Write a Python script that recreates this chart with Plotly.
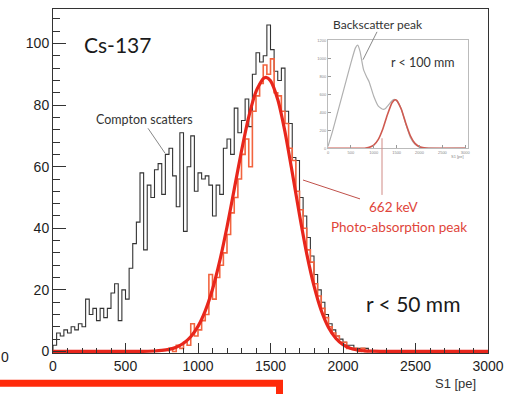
import numpy as np
import plotly.graph_objects as go

# ---------------- data ----------------
bin_width = 25
black_start = 0
black_counts = [2, 6, 5, 7, 6, 8, 7, 9, 8, 17, 12, 14, 10, 14, 11, 14, 19, 22, 10, 20,
                17, 27, 35, 42, 58, 33, 54, 50, 59, 61, 51, 64, 66, 57, 47, 71, 39, 60, 70, 52,
                58, 56, 57, 54, 44, 54, 51, 66, 69, 64, 79, 71, 75, 82, 73, 90, 97, 94, 96, 106,
                98, 91, 88, 92, 78, 74, 63, 62, 50, 44, 37, 31, 25, 20, 16, 12, 9, 7, 5, 4,
                3, 2, 2, 1, 1, 1, 1, 0]
red_start = 800
red_counts = [1, 0, 2, 1, 3, 2, 9, 5, 7, 10,
              12, 25, 17, 24, 28, 32, 38, 45, 50, 56,
              64, 69, 60, 78, 83, 87, 93, 90, 95, 84,
              83, 78, 74, 66, 62, 52, 46, 40, 33, 29,
              22, 18, 14, 11, 8, 6, 5, 3, 3, 1,
              1, 1, 0, 1, 0]

fit_x = [0, 600, 700, 750, 800, 850, 900, 950, 1000, 1050, 1100, 1150, 1200, 1250, 1300,
         1350, 1400, 1450, 1470, 1500, 1550, 1600, 1650, 1700, 1750, 1800, 1850, 1900,
         1950, 2000, 2050, 2100, 2150, 2200, 2300, 3000]
fit_y = [0, 0, 0.15, 0.33, 0.69, 1.39, 2.65, 4.78, 8.16, 13.2, 20.2, 29.4, 40.4, 52.7, 65.1,
         76.2, 84.4, 88.6, 89.0, 87.9, 81.8, 71.3, 58.1, 44.4, 31.7, 21.3, 13.3, 7.8,
         4.3, 2.2, 1.07, 0.48, 0.2, 0.08, 0, 0]

inset_gray_x = [0, 100, 200, 300, 400, 500, 600, 650, 700, 775, 850, 900, 1000, 1100, 1200,
                1250, 1300, 1400, 1450, 1500, 1600, 1700, 1800, 1900, 2000, 2100, 2200, 3000]
inset_gray_y = [20, 190, 380, 570, 760, 950, 1120, 1150, 1080, 880, 790, 740, 580, 470, 435,
                440, 470, 530, 545, 530, 440, 270, 120, 45, 12, 3, 0, 0]
inset_red_x = [0, 800, 900, 1000, 1100, 1200, 1300, 1400, 1470, 1500, 1600, 1700, 1800,
               1900, 2000, 2100, 2200, 3000]
inset_red_y = [0, 0, 9, 34, 98, 217, 376, 508, 540, 534, 437, 279, 139, 54, 16, 4, 0, 0]

x_ticks = [0, 500, 1000, 1500, 2000, 2500, 3000]
y_ticks = [0, 20, 40, 60, 80, 100]
inset_y_ticks = [0, 200, 400, 600, 800, 1000, 1200]

# ---------------- helpers ----------------
W, H = 519, 394
L, R, T, B = 53, 31, 7, 41
PW, PH = W - L - R, H - T - B


def P(xp, yp):
    return (xp - L) / PW, (H - B - yp) / PH


def step(start, counts):
    edges = start + bin_width * np.arange(len(counts) + 1)
    xs = [edges[0]] + list(edges) + [edges[-1]]
    ys = [0] + list(counts) + [counts[-1], 0]
    return xs, ys


fig = go.Figure()

bx, by = step(black_start, black_counts)
fig.add_trace(go.Scatter(x=bx, y=by, mode="lines", line=dict(color="#333333", width=1.1, shape="hv"),
                         hoverinfo="skip", showlegend=False))
rx, ry = step(red_start, red_counts)
fig.add_trace(go.Scatter(x=rx, y=ry, mode="lines", line=dict(color="#f2643f", width=1.6, shape="hv"),
                         hoverinfo="skip", showlegend=False))
fig.add_trace(go.Scatter(x=fit_x, y=fit_y, mode="lines",
                         line=dict(color="#e8261c", width=3.2, shape="spline", smoothing=0.6),
                         hoverinfo="skip", showlegend=False))

# inset
fig.add_trace(go.Scatter(x=inset_gray_x, y=inset_gray_y, mode="lines", xaxis="x2", yaxis="y2",
                         line=dict(color="#b0b0b0", width=1.2, shape="spline", smoothing=0.5),
                         hoverinfo="skip", showlegend=False))
fig.add_trace(go.Scatter(x=inset_red_x, y=inset_red_y, mode="lines", xaxis="x2", yaxis="y2",
                         line=dict(color="#cf5a50", width=1.6, shape="spline", smoothing=0.5),
                         hoverinfo="skip", showlegend=False))

tickfont = dict(family="Liberation Sans, Arial, sans-serif", size=14, color="#1e1e1e")
ix0, iy0 = P(328, 147)
ix1, iy1 = P(468, 38)

fig.update_layout(
    width=W, height=H,
    margin=dict(l=L, r=R, t=T, b=B),
    paper_bgcolor="white", plot_bgcolor="white",
    xaxis=dict(range=[0, 3000], tickvals=x_ticks, ticks="inside", ticklen=10, tickcolor="#333",
               showline=True, linecolor="#333", linewidth=1, mirror=True, showgrid=False,
               zeroline=False, tickfont=tickfont,
               minor=dict(dtick=100, ticks="inside", ticklen=5, tickcolor="#333")),
    yaxis=dict(range=[-0.5, 111.2], tickvals=y_ticks, ticks="inside", ticklen=13, tickcolor="#333",
               showline=True, linecolor="#333", linewidth=1, mirror=True, showgrid=False,
               zeroline=False, tickfont=tickfont,
               minor=dict(dtick=4, ticks="inside", ticklen=7, tickcolor="#333")),
    xaxis2=dict(domain=[ix0, ix1], anchor="y2", range=[0, 3060], tickvals=x_ticks,
                ticks="inside", ticklen=3, tickcolor="#999", showline=True, linecolor="#bbb",
                mirror=True, showgrid=False, zeroline=False,
                tickfont=dict(family="Liberation Sans", size=4, color="#888")),
    yaxis2=dict(domain=[iy0, iy1], anchor="x2", range=[0, 1210], tickvals=inset_y_ticks,
                ticks="inside", ticklen=3, tickcolor="#999", showline=True, linecolor="#bbb",
                mirror=True, showgrid=False, zeroline=False,
                tickfont=dict(family="Liberation Sans", size=4, color="#888")),
)

ann_font = "Lato, Open Sans, sans-serif"


def text(xp, yp, s, size, color="#222", family=ann_font):
    x, y = P(xp, yp)
    fig.add_annotation(x=x, y=y, xref="paper", yref="paper", text=s, showarrow=False,
                       font=dict(family=family, size=size, color=color),
                       xanchor="center", yanchor="middle")


def line(xa, ya, xb, yb, color, width=1):
    x0, y0 = P(xa, ya)
    x1, y1 = P(xb, yb)
    fig.add_shape(type="line", xref="paper", yref="paper", x0=x0, y0=y0, x1=x1, y1=y1,
                  line=dict(color=color, width=width))


text(117, 43, "Cs-137", 21, "#1a1a1a")
text(144, 118, "Compton scatters", 12.5, "#333")
line(148, 127, 165, 152, "#888", 1)
text(378, 23, "Backscatter peak", 12, "#333")
line(377, 30, 363, 58, "#888", 1)
text(422, 61, "r < 100 mm", 12.5, "#333")
text(394, 206, "662 keV", 13.5, "#e0453a")
text(399, 226, "Photo-absorption peak", 13.5, "#e0453a")
line(360, 198, 303, 179, "#c0504a", 1)
line(382, 194, 382, 137, "#d08a85", 1)
text(413, 303, "r < 50 mm", 21, "#1a1a1a")
text(455, 384, "S1 [pe]", 13, "#333", "Liberation Sans, Arial, sans-serif")
text(457, 155, "S1 [pe]", 4, "#888", "Liberation Sans")
text(5, 357, "0", 14, "#1e1e1e", "Liberation Sans, Arial, sans-serif")

# red frame fragment at the bottom
rx0, ry0 = P(-20, 383.5)
rx1, ry1 = P(279.5, 430)
fig.add_shape(type="rect", xref="paper", yref="paper", x0=rx0, y0=ry1, x1=rx1, y1=ry0,
              line=dict(color="#ff2a0a", width=7), fillcolor="rgba(0,0,0,0)")

fig.write_html("out.html")
